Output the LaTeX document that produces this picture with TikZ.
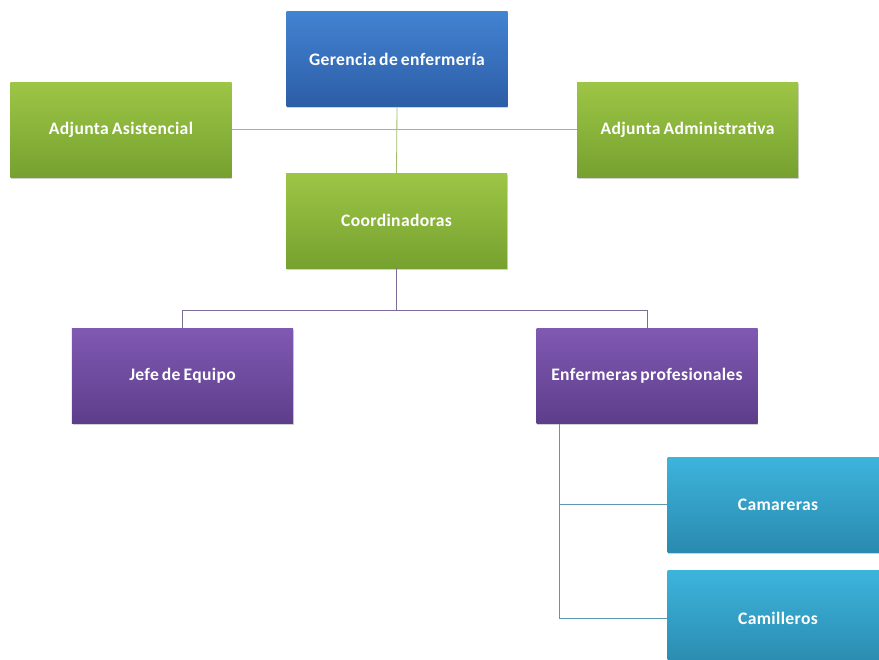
\documentclass[tikz,border=0pt]{standalone}
\usepackage{fontspec}
\setmainfont{Carlito}[LetterSpace=2, WordSpace=0.7]
\usetikzlibrary{shadows}

\definecolor{gertop}{HTML}{4283D2}
\definecolor{gerbot}{HTML}{2D5DA6}
\definecolor{grntop}{HTML}{9DC646}
\definecolor{grnbot}{HTML}{76A12F}
\definecolor{prptop}{HTML}{8059B2}
\definecolor{prpbot}{HTML}{5D3E8B}
\definecolor{cyntop}{HTML}{3DB4DC}
\definecolor{cynbot}{HTML}{2A8AAF}
\definecolor{grnline}{HTML}{A2BD6A}
\definecolor{prpline}{HTML}{7D6C99}
\definecolor{cynline}{HTML}{5C97B0}

\begin{document}
\begin{tikzpicture}[x=0.03cm, y=-0.03cm,
  orgbox/.style={rectangle, minimum width=6.63cm, minimum height=2.85cm,
    text=white, font=\fontsize{15}{18}\selectfont\bfseries,
    drop shadow={shadow xshift=0.6pt, shadow yshift=-1.6pt, opacity=0.35}},
  bluebox/.style={orgbox, top color=gertop, bottom color=gerbot},
  greenbox/.style={orgbox, top color=grntop, bottom color=grnbot},
  purplebox/.style={orgbox, top color=prptop, bottom color=prpbot},
  cyanbox/.style={orgbox, top color=cyntop, bottom color=cynbot},
  greenline/.style={draw=grnline, line width=0.7pt},
  purpleline/.style={draw=prpline, line width=0.7pt},
  cyanline/.style={draw=cynline, line width=0.7pt}]

	\useasboundingbox (0,0) rectangle (879,659);
	\clip (0,0) rectangle (879,659);
	\fill[white] (0,0) rectangle (879,659);

	\node[bluebox] (ger) at (397,59) {Gerencia de enfermería};
	\node[greenbox] (asi) at (121,129.5) {Adjunta Asistencial};
	\node[greenbox] (adm) at (687.5,129.5) {Adjunta Administrativa};
	\node[greenbox] (coo) at (396.5,220.5) {Coordinadoras};
	\node[purplebox] (jef) at (182.5,376) {Jefe de Equipo};
	\node[purplebox] (enf) at (647,376) {Enfermeras profesionales};
	\node[cyanbox] (cam) at (778,504.5) {Camareras};
	\node[cyanbox] (cml) at (778,618) {Camilleros};

	\coordinate (split) at ([yshift=-1.26cm]coo.south);
	\coordinate (enfdrop) at ([xshift=0.69cm]enf.south west);

	\draw[greenline] (asi.east) -- (adm.west);
	\draw[greenline] (ger.south) -- (coo.north);
	\draw[purpleline] (coo.south) -- (split) -| (jef.north);
	\draw[purpleline] (split) -| (enf.north);
	\draw[cyanline] (enfdrop) |- (cam.west);
	\draw[cyanline] (enfdrop) |- (cml.west);
\end{tikzpicture}
\end{document}
